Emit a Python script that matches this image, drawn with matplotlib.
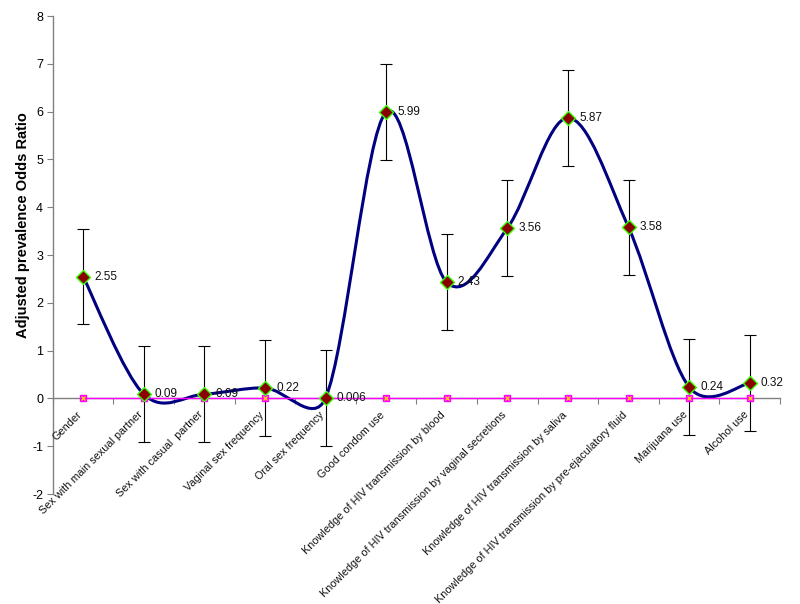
import matplotlib
matplotlib.use("Agg")
import matplotlib.pyplot as plt
import numpy as np
from matplotlib.path import Path
from matplotlib.patches import PathPatch

plt.rcParams['font.family'] = ['Liberation Sans', 'DejaVu Sans']

categories = [
    "Gender",
    "Sex with main sexual partner",
    "Sex with casual  partner",
    "Vaginal sex frequency",
    "Oral sex frequency",
    "Good condom use",
    "Knowledge of HIV transmission by blood",
    "Knowledge of HIV transmission by vaginal secretions",
    "Knowledge of HIV transmission by saliva",
    "Knowledge of HIV transmission by pre-ejaculatory fluid",
    "Marijuana use",
    "Alcohol use",
]
odds_ratio = [2.55, 0.09, 0.09, 0.22, 0.006, 5.99, 2.43, 3.56, 5.87, 3.58, 0.24, 0.32]
value_labels = ["2.55", "0.09", "0.09", "0.22", "0.006", "5.99", "2.43", "3.56", "5.87", "3.58", "0.24", "0.32"]
error = [1, 1, 1, 1, 1, 1, 1, 1, 1, 1, 1, 1]
reference_line = [0, 0, 0, 0, 0, 0, 0, 0, 0, 0, 0, 0]
y_ticks = [-2, -1, 0, 1, 2, 3, 4, 5, 6, 7, 8]

fig = plt.figure(figsize=(8.0, 6.04), dpi=100)
ax = fig.add_axes([0.066, 0.182, 0.909, 0.7915])

x = list(range(len(categories)))
ax.set_xlim(-0.5, len(categories) - 0.5)
ax.set_ylim(-2, 8)

# Excel-like smoothed line: Bezier segments with control points computed in
# screen space, tangent length capped at half the segment length.
disp = ax.transData.transform(np.column_stack([x, odds_ratio]))
n = len(disp)
verts = [disp[0]]
codes = [Path.MOVETO]
for i in range(n - 1):
    p0 = disp[i - 1] if i > 0 else disp[i]
    p1 = disp[i]
    p2 = disp[i + 1]
    p3 = disp[i + 2] if i + 2 < n else disp[i + 1]
    d12 = np.hypot(*(p2 - p1))
    d02 = np.hypot(*(p2 - p0))
    d13 = np.hypot(*(p3 - p1))
    f1 = 1.0 / 6.0
    f2 = 1.0 / 6.0
    if d02 > 0 and d02 / 6.0 > d12 / 2.0:
        f1 = d12 / (2.0 * d02)
    if d13 > 0 and d13 / 6.0 > d12 / 2.0:
        f2 = d12 / (2.0 * d13)
    c1 = p1 + f1 * (p2 - p0)
    c2 = p2 - f2 * (p3 - p1)
    verts += [c1, c2, p2]
    codes += [Path.CURVE4, Path.CURVE4, Path.CURVE4]
verts_data = ax.transData.inverted().transform(np.array(verts))
curve = PathPatch(Path(verts_data, codes), facecolor='none', edgecolor='#000080',
                  lw=2.2, zorder=3, capstyle='round', joinstyle='round')
ax.add_patch(curve)

# error bars
ax.errorbar(x, odds_ratio, yerr=error, fmt='none', ecolor='#000000',
            elinewidth=0.8, capsize=4, capthick=0.8, zorder=2)

# reference series at zero
ax.plot(x, reference_line, color='#FF00FF', lw=1.0, marker='s', markersize=4.5,
        markerfacecolor='#FF00FF', markeredgecolor='#FF00FF', zorder=4)
ax.plot(x, reference_line, linestyle='none', marker='x', markersize=3.5,
        markeredgecolor='#FFD700', markeredgewidth=0.9, zorder=4.5)

# main markers
ax.plot(x, odds_ratio, linestyle='none', marker='D', markersize=7.5,
        markerfacecolor='#8B0000', markeredgecolor='#33FF00',
        markeredgewidth=1.0, zorder=5)

for xi, yi, lab in zip(x, odds_ratio, value_labels):
    ax.annotate(lab, (xi, yi), xytext=(8, 0), textcoords='offset points',
                ha='left', va='center', fontsize=8.5, color='#111111', zorder=6)

ax.set_yticks(y_ticks)
ax.set_yticklabels([str(t) for t in y_ticks], fontsize=9)

ax.set_xticks([k - 0.5 for k in range(len(categories) + 1)])
ax.set_xticklabels([])
ax.tick_params(axis='x', which='major', length=4, direction='out', color='#808080')
ax.tick_params(axis='y', length=4, direction='out', color='#808080', pad=3)

# category labels (rotated, hanging from the zero axis)
for xi, lab in zip(x, categories):
    ax.annotate(lab, (xi, 0), xytext=(-4.5, -8), textcoords='offset points',
                rotation=45, ha='right', va='top', rotation_mode='anchor',
                fontsize=7.8, color='#111111')

ax.spines['top'].set_visible(False)
ax.spines['right'].set_visible(False)
ax.spines['bottom'].set_position(('data', 0))
for s in ('left', 'bottom'):
    ax.spines[s].set_color('#808080')
    ax.spines[s].set_linewidth(1.0)

ax.set_ylabel('Adjusted prevalence Odds Ratio', fontsize=10.5, fontweight='bold')
ax.yaxis.set_label_coords(-0.031, 0.563)

fig.savefig('out.png', dpi=100)
